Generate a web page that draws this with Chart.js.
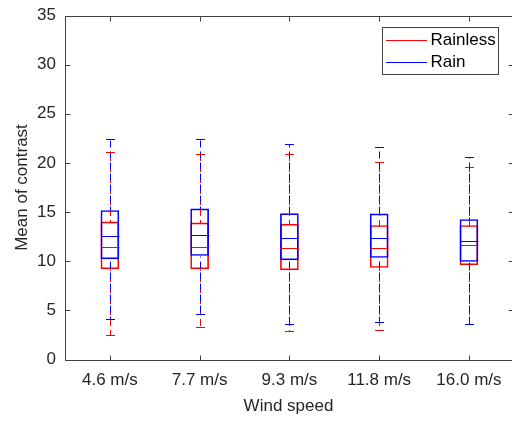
<!DOCTYPE html>
<html>
<head>
<meta charset="utf-8">
<script src="https://cdn.jsdelivr.net/npm/chart.js@4.4.0/dist/chart.umd.min.js"></script>
<style>
  html, body { margin: 0; padding: 0; background: #fff; overflow: hidden; }
  #wrap { width: 512px; height: 421px; }
</style>
</head>
<body>
<div id="wrap"><canvas id="c" width="512" height="421"></canvas></div>
<script>
const categories = ['4.6 m/s', '7.7 m/s', '9.3 m/s', '11.8 m/s', '16.0 m/s'];
const yTicks = [0, 5, 10, 15, 20, 25, 30, 35];

const rainlessMin    = [2.54, 3.26, 2.95, 2.98, 3.66];
const rainlessQ1     = [9.22, 9.22, 9.12, 9.36, 9.63];
const rainlessMedian = [11.46, 11.46, 11.36, 11.36, 11.6];
const rainlessQ3     = [14.0, 13.9, 13.77, 13.63, 13.63];
const rainlessMax    = [21.1, 20.9, 20.9, 20.07, 19.6];

const rainMin    = [4.14, 4.65, 3.66, 3.83, 3.6];
const rainQ1     = [10.24, 10.58, 10.14, 10.38, 9.97];
const rainMedian = [12.55, 12.68, 12.38, 12.41, 12.07];
const rainQ3     = [15.16, 15.33, 14.85, 14.82, 14.24];
const rainMax    = [22.45, 22.48, 21.97, 21.6, 20.65];

const RED = '#ff0000';
const BLUE = '#0000ff';
const AXIS = '#404040';
const TEXT = '#262626';
const FONT = "'Liberation Sans', Arial, Helvetica, sans-serif";

const series = [
  { label: 'Rainless', color: RED, phase: 0, min: rainlessMin, q1: rainlessQ1, med: rainlessMedian, q3: rainlessQ3, max: rainlessMax },
  { label: 'Rain', color: BLUE, phase: 2.5, min: rainMin, q1: rainQ1, med: rainMedian, q3: rainQ3, max: rainMax }
];

const boxPlugin = {
  id: 'boxParts',
  afterDatasetsDraw(chart) {
    const ctx = chart.ctx;
    const xs = chart.scales.x, ys = chart.scales.y;
    ctx.save();
    ctx.lineWidth = 1;
    const seg = (x, y1, y2, phase) => {
      const top = Math.min(y1, y2), bot = Math.max(y1, y2);
      ctx.lineDashOffset = (top + phase) % 11;
      ctx.beginPath();
      ctx.moveTo(x, top); ctx.lineTo(x, bot);
      ctx.stroke();
    };
    series.forEach(s => {
      ctx.strokeStyle = s.color;
      ctx.setLineDash([7, 4]);
      categories.forEach((c, i) => {
        const x = Math.round(xs.getPixelForValue(i + 1)) + 0.5;
        const py = v => Math.round(ys.getPixelForValue(v)) + 0.5;
        seg(x, py(s.max[i]), py(s.q3[i]), s.phase);
        seg(x, py(s.q1[i]), py(s.min[i]), s.phase);
      });
    });
    ctx.lineDashOffset = 0;
    series.forEach(s => {
      ctx.strokeStyle = s.color;
      ctx.setLineDash([]);
      categories.forEach((c, i) => {
        const x = Math.round(xs.getPixelForValue(i + 1)) + 0.5;
        const py = v => Math.round(ys.getPixelForValue(v)) + 0.5;
        ctx.beginPath();
        ctx.moveTo(x - 4.5, py(s.max[i])); ctx.lineTo(x + 4.5, py(s.max[i]));
        ctx.moveTo(x - 4.5, py(s.min[i])); ctx.lineTo(x + 4.5, py(s.min[i]));
        ctx.moveTo(x - 9, py(s.med[i])); ctx.lineTo(x + 9, py(s.med[i]));
        ctx.stroke();
      });
    });
    ctx.restore();
  },
  afterDraw(chart) {
    const ctx = chart.ctx;
    const a = chart.chartArea;
    const xs = chart.scales.x, ys = chart.scales.y;
    ctx.save();
    ctx.strokeStyle = AXIS;
    ctx.lineWidth = 1;
    ctx.setLineDash([]);
    const L = Math.round(a.left) + 0.5;
    const R = xs.getPixelForValue(5.5);
    const T = Math.round(a.top) + 0.5, B = Math.round(a.bottom) + 0.5;
    ctx.beginPath();
    ctx.moveTo(R, T); ctx.lineTo(L, T); ctx.lineTo(L, B); ctx.lineTo(R, B);
    yTicks.forEach(v => {
      const y = Math.round(ys.getPixelForValue(v)) + 0.5;
      ctx.moveTo(L, y); ctx.lineTo(L + 5, y);
      ctx.moveTo(R, y); ctx.lineTo(R - 5, y);
    });
    categories.forEach((c, i) => {
      const x = Math.round(xs.getPixelForValue(i + 1)) + 0.5;
      ctx.moveTo(x, B); ctx.lineTo(x, B - 5);
      ctx.moveTo(x, T); ctx.lineTo(x, T + 5);
    });
    ctx.stroke();

    const lx = 382.5, ly = 27.5, lw = 116, lh = 47;
    ctx.fillStyle = '#ffffff';
    ctx.fillRect(lx, ly, lw, lh);
    ctx.strokeStyle = AXIS;
    ctx.strokeRect(lx, ly, lw, lh);
    ctx.font = '17px ' + FONT;
    ctx.textBaseline = 'middle';
    ctx.textAlign = 'left';
    series.forEach((s, k) => {
      const yy = 40.5 + k * 22;
      ctx.strokeStyle = s.color;
      ctx.beginPath();
      ctx.moveTo(386, yy); ctx.lineTo(427, yy);
      ctx.stroke();
      ctx.fillStyle = '#000000';
      ctx.fillText(s.label, 430.5, yy);
    });
    ctx.restore();
  }
};

new Chart(document.getElementById('c'), {
  type: 'bar',
  data: {
    datasets: series.map((s, k) => ({
      label: s.label,
      data: categories.map((c, i) => ({ x: i + 1, y: [s.q1[i], s.q3[i]] })),
      borderColor: s.color,
      backgroundColor: 'rgba(0,0,0,0)',
      borderWidth: 1,
      borderSkipped: false,
      barThickness: 18,
      grouped: false,
      order: series.length - k
    }))
  },
  options: {
    responsive: false,
    animation: false,
    devicePixelRatio: 1,
    layout: { padding: { left: 0, right: 0, top: 15.5, bottom: 0 } },
    plugins: { legend: { display: false }, tooltip: { enabled: false } },
    scales: {
      x: {
        type: 'linear',
        offset: false,
        min: 0.5, max: 5.48,
        afterBuildTicks(scale) { scale.ticks = categories.map((c, i) => ({ value: i + 1 })); },
        afterFit(scale) { scale.height = 61.5; scale.paddingLeft = 0; scale.paddingRight = 0; },
        grid: { display: false, drawTicks: false, offset: false },
        border: { display: false },
        ticks: {
          autoSkip: false, maxRotation: 0,
          padding: 11,
          color: TEXT,
          font: { family: FONT, size: 17 },
          callback: (v) => categories[Math.round(v) - 1]
        },
        title: { display: true, text: 'Wind speed', color: TEXT, font: { family: FONT, size: 17 }, padding: { top: 0, bottom: 4 } }
      },
      y: {
        min: 0, max: 35,
        afterBuildTicks(scale) { scale.ticks = yTicks.map(v => ({ value: v })); },
        afterFit(scale) { scale.width = 65; scale.paddingTop = 0; scale.paddingBottom = 0; },
        grid: { display: false, drawTicks: false },
        border: { display: false },
        ticks: {
          padding: 9,
          color: TEXT,
          font: { family: FONT, size: 17 }
        },
        title: { display: true, text: 'Mean of contrast', color: TEXT, font: { family: FONT, size: 17 }, padding: { top: 12, bottom: 0 } }
      }
    }
  },
  plugins: [boxPlugin]
});
</script>
</body>
</html>
